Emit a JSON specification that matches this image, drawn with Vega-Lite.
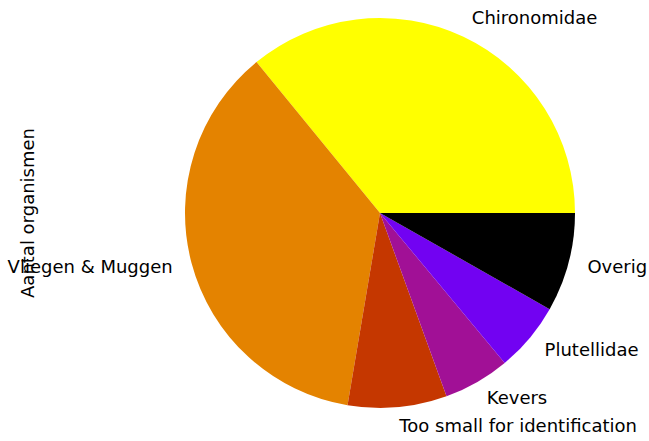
{
  "$schema": "https://vega.github.io/schema/vega-lite/v6.json",
  "width": 390,
  "height": 390,
  "autosize": "none",
  "padding": {"left": 185, "top": 18, "right": 74, "bottom": 33},
  "background": "white",
  "title": {"text": "Aantal organismen", "orient": "left", "anchor": "middle", "frame": "group", "font": "DejaVu Sans", "fontSize": 18, "fontWeight": "normal", "color": "#000000", "offset": -30},
  "config": {"view": {"stroke": null}},
  "data": {"values": [
    {"label": "Chironomidae", "aantal": 35.9, "volgorde": 1},
    {"label": "Vliegen & Muggen", "aantal": 36.4, "volgorde": 2},
    {"label": "Too small for identification", "aantal": 8.2, "volgorde": 3},
    {"label": "Kevers", "aantal": 5.5, "volgorde": 4},
    {"label": "Plutellidae", "aantal": 5.75, "volgorde": 5},
    {"label": "Overig", "aantal": 8.2, "volgorde": 6}
  ]},
  "encoding": {
    "theta": {"field": "aantal", "type": "quantitative", "stack": true, "scale": {"range": [1.5707963, -4.712389]}},
    "order": {"field": "volgorde", "type": "quantitative"}
  },
  "layer": [
    {
      "mark": {"type": "arc", "radius": 195},
      "encoding": {
        "color": {"field": "label", "type": "nominal", "legend": null,
          "scale": {"domain": ["Chironomidae", "Vliegen & Muggen", "Too small for identification", "Kevers", "Plutellidae", "Overig"],
                    "range": ["#ffff00", "#e48300", "#c53700", "#a11096", "#7202f2", "#000000"]}}
      }
    },
    {
      "mark": {"type": "text", "radius": 214.5, "align": "left", "baseline": "middle", "font": "DejaVu Sans", "fontSize": 18, "color": "#000000"},
      "encoding": {"text": {"condition": {"test": "datum.label !== 'Vliegen & Muggen'", "field": "label", "type": "nominal"}, "value": ""}}
    },
    {
      "mark": {"type": "text", "radius": 214.5, "align": "right", "baseline": "middle", "font": "DejaVu Sans", "fontSize": 18, "color": "#000000"},
      "encoding": {"text": {"condition": {"test": "datum.label === 'Vliegen & Muggen'", "field": "label", "type": "nominal"}, "value": ""}}
    }
  ]
}
